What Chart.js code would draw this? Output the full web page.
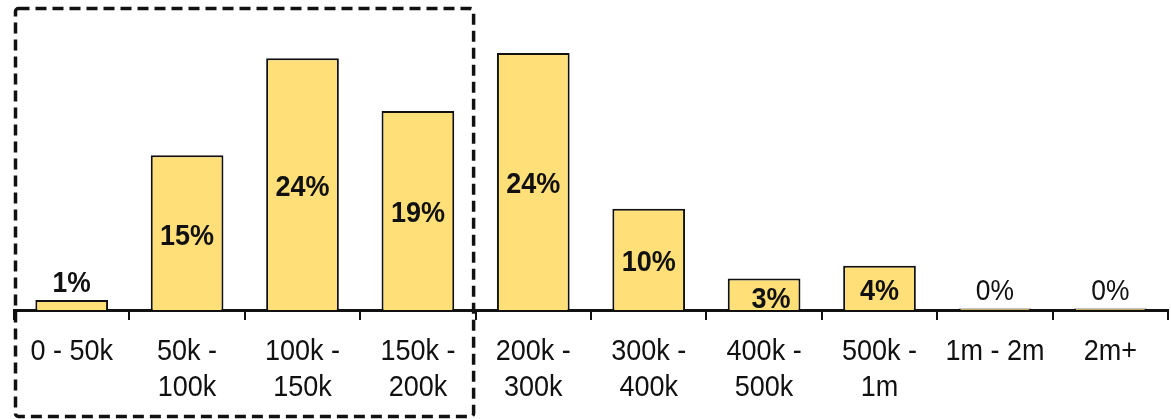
<!DOCTYPE html>
<html>
<head>
<meta charset="utf-8">
<script src="https://cdn.jsdelivr.net/npm/chart.js@4"></script>
<style>
  html, body { margin: 0; padding: 0; background: #fff; }
  #wrap { width: 1171px; height: 419px; }
</style>
</head>
<body>
<div id="wrap"><canvas id="barCanvas"></canvas></div>
<script>
const categories = [
  ["0 - 50k"],
  ["50k -", "100k"],
  ["100k -", "150k"],
  ["150k -", "200k"],
  ["200k -", "300k"],
  ["300k -", "400k"],
  ["400k -", "500k"],
  ["500k -", "1m"],
  ["1m - 2m"],
  ["2m+"],
];
const shares = [0.95, 14.7, 23.9, 18.9, 24.4, 9.6, 3.0, 4.2, 0.15, 0.15];
const shareLabels = ["1%", "15%", "24%", "19%", "24%", "10%", "3%", "4%", "0%", "0%"];

const FONT = "'Liberation Sans', Arial, sans-serif";

// draws text squeezed horizontally, to get a condensed look
function narrowText(ctx, text, x, y, sx) {
  ctx.save();
  ctx.translate(x, y);
  ctx.scale(sx, 1);
  ctx.fillText(text, 0, 0);
  ctx.restore();
}

// category labels under the axis (chart.js ticks are hidden)
const categoryLabels = {
  id: "categoryLabels",
  afterDraw(chart) {
    const ctx = chart.ctx;
    const x = chart.scales.x;
    const base = chart.chartArea.bottom;
    ctx.save();
    ctx.fillStyle = "#111";
    ctx.textAlign = "center";
    ctx.textBaseline = "alphabetic";
    ctx.font = "30px " + FONT;
    categories.forEach((lines, i) => {
      lines.forEach((line, j) => {
        narrowText(ctx, line, x.getPixelForValue(i), base + 50 + j * 36, 0.9);
      });
    });
    ctx.restore();
  },
};

// value labels: inside the bar when it is tall enough, above otherwise
const valueLabels = {
  id: "valueLabels",
  afterDatasetsDraw(chart, args, opts) {
    const ctx = chart.ctx;
    const meta = chart.getDatasetMeta(0);
    const area = chart.chartArea;
    ctx.save();
    ctx.beginPath();
    ctx.rect(area.left, 0, area.right - area.left, area.bottom - 1);
    ctx.clip();
    ctx.fillStyle = "#111";
    ctx.textAlign = "center";
    ctx.textBaseline = "alphabetic";
    meta.data.forEach((bar, i) => {
      const h = bar.base - bar.y;
      const nudge = opts.nudge[i] || [0, 0];
      if (h > 25) {
        ctx.font = "bold 30px " + FONT;
        narrowText(ctx, shareLabels[i], bar.x + nudge[0], (bar.y + bar.base) / 2 + 12 + nudge[1], 0.9);
      } else {
        ctx.font = (shares[i] < 0.5 ? "" : "bold ") + "30px " + FONT;
        narrowText(ctx, shareLabels[i], bar.x, bar.y - 8, 0.88);
      }
    });
    ctx.restore();
  },
};

// dashed frame around the first four categories
const dashedFrame = {
  id: "dashedFrame",
  afterDraw(chart) {
    const ctx = chart.ctx;
    const x = chart.scales.x;
    const left = chart.chartArea.left + 1.5;
    const right = (x.getPixelForValue(3) + x.getPixelForValue(4)) / 2 - 2;
    ctx.save();
    ctx.strokeStyle = "#111";
    ctx.lineWidth = 3.5;
    ctx.setLineDash([11, 6]);
    ctx.beginPath();
    ctx.roundRect(left, 8.5, right - left, 408, 3);
    ctx.stroke();
    ctx.restore();
  },
};

const barChart = new Chart(document.getElementById("barCanvas"), {
  type: "bar",
  data: {
    labels: categories,
    datasets: [
      {
        data: shares,
        backgroundColor: "#FEDF78",
        borderColor: "#111",
        borderWidth: 2,
        categoryPercentage: 1,
        barPercentage: 0.63,
      },
    ],
  },
  options: {
    responsive: true,
    maintainAspectRatio: false,
    animation: false,
    layout: {
      padding: { left: 14, right: 3, top: 15, bottom: 99 },
    },
    scales: {
      x: {
        offset: true,
        grid: {
          offset: true,
          drawOnChartArea: false,
          drawTicks: true,
          tickLength: 10,
          color: "#111",
          lineWidth: 2,
        },
        border: { display: true, color: "#111", width: 3 },
        ticks: { display: false },
      },
      y: {
        display: false,
        min: 0,
        max: 28,
      },
    },
    plugins: {
      legend: { display: false },
      tooltip: { enabled: false },
      valueLabels: { nudge: { 6: [7, 2] } },
    },
  },
  plugins: [valueLabels, categoryLabels, dashedFrame],
});
</script>
</body>
</html>
